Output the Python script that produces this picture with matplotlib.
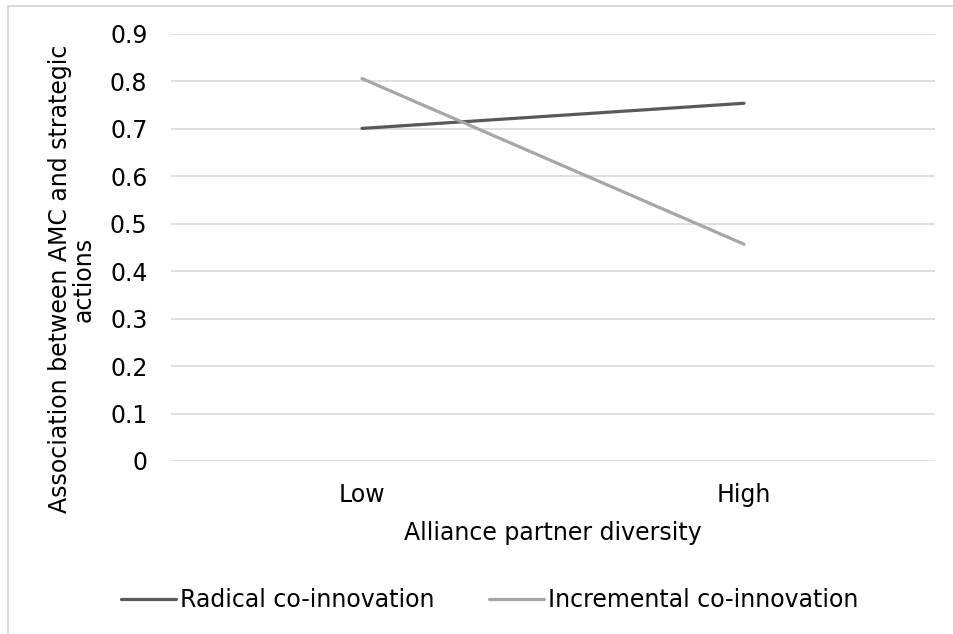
import matplotlib
matplotlib.use("Agg")
import matplotlib.pyplot as plt
from matplotlib.patches import Rectangle

categories = ["Low", "High"]
radical = [0.701, 0.754]
incremental = [0.806, 0.457]
series_names = ["Radical co-innovation", "Incremental co-innovation"]
yticks = [0, 0.1, 0.2, 0.3, 0.4, 0.5, 0.6, 0.7, 0.8, 0.9]
ytick_labels = ["0", "0.1", "0.2", "0.3", "0.4", "0.5", "0.6", "0.7", "0.8", "0.9"]

plt.rcParams['font.family'] = ['DejaVu Sans']
FS = 17
W, H = 954, 634
fig = plt.figure(figsize=(W / 100, H / 100), dpi=100)

left, right, top, bottom = 171, 935, 34, 461
ax = fig.add_axes([left / W, (H - bottom) / H, (right - left) / W, (bottom - top) / H])

x = list(range(len(categories)))
ax.plot(x, radical, color="#595959", lw=2.3, solid_capstyle="round", label=series_names[0], zorder=3)
ax.plot(x, incremental, color="#A6A6A6", lw=2.3, solid_capstyle="round", label=series_names[1], zorder=3)

ax.set_xlim(-0.5, 1.5)
ax.set_ylim(0, 0.9)
ax.set_yticks(yticks)
ax.set_yticklabels(ytick_labels)
ax.set_xticks(x)
ax.set_xticklabels(categories)
ax.grid(axis="y", color="#D9D9D9", lw=1.2)
ax.set_axisbelow(True)
for s in ax.spines.values():
    s.set_visible(False)
ax.tick_params(axis="y", length=0, pad=17, labelsize=FS, colors="black")
ax.tick_params(axis="x", length=0, pad=16, labelsize=FS, colors="black")

ax.set_xlabel("Alliance partner diversity", fontsize=FS)
ax.xaxis.set_label_coords(0.5, (bottom - 533) / (bottom - top))
ax.xaxis.label.set_va("center")
ax.set_ylabel("Association between AMC and strategic\nactions", fontsize=FS, linespacing=1.0)
ax.yaxis.set_label_coords((72 - left) / (right - left), (bottom - 279) / (bottom - top))
ax.yaxis.label.set_va("center")

fig.legend(loc="center", bbox_to_anchor=(490 / W, (H - 600) / H), ncol=2, frameon=False,
           fontsize=FS, handlelength=2.3, handletextpad=0.2, columnspacing=2.3)

fig.patches.append(Rectangle((8 / W, -0.5), 2, 0.5 + 1 - 6 / H, transform=fig.transFigure,
                             fill=False, edgecolor="#D9D9D9", lw=1.5))

fig.savefig("out.png", dpi=100)
